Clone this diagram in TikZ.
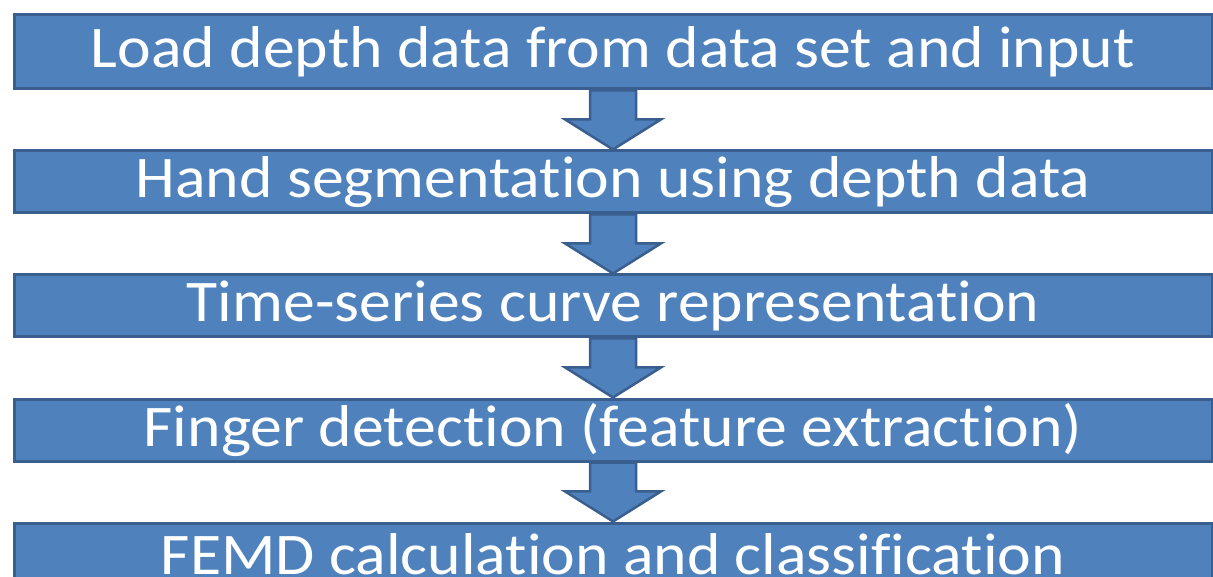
\documentclass[tikz,border=0pt]{standalone}
\usepackage{fontspec}
\setmainfont[Ligatures=NoCommon]{Carlito}
\usetikzlibrary{calc}
\definecolor{boxfill}{HTML}{4F81BD}
\definecolor{boxline}{HTML}{3A5F8E}
% stage captions are set slightly wide
\newcommand{\widetext}[1]{\scalebox{1.08}[1]{#1}}
\tikzset{
  stage/.style={draw=boxline, line width=3pt, fill=boxfill, text=white,
    font=\fontsize{59}{59}\selectfont, inner sep=0pt,
    minimum width=1198pt, anchor=north west},
  flow/.style={draw=boxline, line width=2.5pt, fill=boxfill, line join=miter}
}
% block arrow between the bottom of one stage and the top of the next
\newcommand{\blockarrow}[2]{%
  \draw[flow] ($(#1.south)+(-23,0)$) -- ($(#1.south)+(23,0)$)
    -- ($(#1.south)!0.49!(#2.north)+(23,0)$) -- ($(#1.south)!0.49!(#2.north)+(48,0)$)
    -- (#2.north)
    -- ($(#1.south)!0.49!(#2.north)+(-48,0)$) -- ($(#1.south)!0.49!(#2.north)+(-23,0)$)
    -- cycle;}
\begin{document}
\begin{tikzpicture}[x=1pt,y=-1pt]
\useasboundingbox (0,0) rectangle (1213,577);
\clip (0,0) rectangle (1213,577);
\node[stage, minimum height=74pt] (s1) at (12.5,13.5) {\widetext{Load depth data from data set and input}};
\node[stage, minimum height=62pt] (s2) at (12.5,149.5) {\widetext{Hand segmentation using depth data}};
\node[stage, minimum height=62pt] (s3) at (12.5,273.5) {\widetext{Time-series curve representation}};
\node[stage, minimum height=62pt] (s4) at (12.5,397.5) {\widetext{Finger detection (feature extraction)}};
\node[stage, minimum height=62pt] (s5) at (12.5,521.5) {\widetext{FEMD calculation and classification}};
\blockarrow{s1}{s2}
\blockarrow{s2}{s3}
\blockarrow{s3}{s4}
\blockarrow{s4}{s5}
\end{tikzpicture}
\end{document}
